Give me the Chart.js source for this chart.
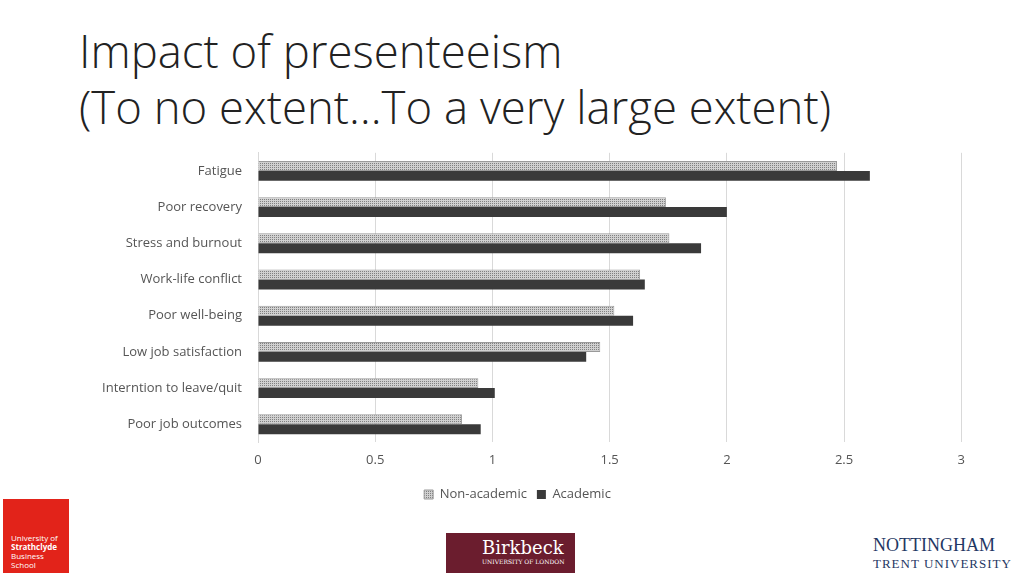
<!DOCTYPE html>
<html lang="en">
<head>
<meta charset="UTF-8">
<title>Impact of presenteeism</title>
<script src="https://cdn.jsdelivr.net/npm/chart.js"></script>
<style>
  body { margin: 0; width: 1024px; height: 576px; background: #fff; position: relative; overflow: hidden; font-family: "Open Sans", sans-serif; }
  h1 { position: absolute; left: 79px; top: 22px; margin: 0; font-weight: 300; font-size: 45.5px; line-height: 56px; color: #222; }
  .chart { position: absolute; left: 60px; top: 137px; width: 915px; height: 374px; }
  .strath { position: absolute; left: 3px; top: 499px; width: 66px; height: 74px; background: #e2231a; color: #fff; font-size: 8px; line-height: 9px; padding: 34px 0 0 8px; box-sizing: border-box; }
  .bbk { position: absolute; left: 446px; top: 533px; width: 129px; height: 40px; background: #6b1d2e; color: #fff; font-family: "DejaVu Serif", serif; font-size: 18px; padding: 4px 0 0 36px; box-sizing: border-box; white-space: nowrap; }
  .bbk small { display: block; font-size: 6px; margin-top: 0; }
  .ntu { position: absolute; left: 873px; top: 537px; color: #1f3864; font-family: "Liberation Serif", serif; font-size: 18px; line-height: 17px; }
  .ntu small { font-size: 13px; letter-spacing: 1px; }
</style>
</head>
<body>
<h1>Impact of presenteeism<br>(To no extent…To a very large extent)</h1>
<div class="chart"><canvas id="c"></canvas></div>
<div class="strath">University of<br><b>Strathclyde</b><br>Business School</div>
<div class="bbk">Birkbeck<small>UNIVERSITY OF LONDON</small></div>
<div class="ntu">NOTTINGHAM<br><small>TRENT UNIVERSITY</small></div>
<script>
const categories = ['Fatigue', 'Poor recovery', 'Stress and burnout', 'Work-life conflict', 'Poor well-being', 'Low job satisfaction', 'Interntion to leave/quit', 'Poor job outcomes'];
const nonAcademic = [2.47, 1.74, 1.755, 1.63, 1.52, 1.46, 0.94, 0.87];
const academic = [2.61, 2.00, 1.89, 1.65, 1.60, 1.40, 1.01, 0.95];

function makePattern() {
  const p = document.createElement('canvas');
  p.width = 4; p.height = 4;
  const g = p.getContext('2d');
  g.fillStyle = '#d0d0d0'; g.fillRect(0, 0, 4, 4);
  g.fillStyle = '#808080';
  g.fillRect(0, 0, 1, 1); g.fillRect(2, 2, 1, 1); g.fillRect(2, 0, 1, 1); g.fillRect(0, 2, 1, 1);
  return g.createPattern(p, 'repeat');
}
const pat = makePattern();
Chart.defaults.font.family = '"Open Sans", sans-serif';

new Chart(document.getElementById('c'), {
  type: 'bar',
  data: {
    labels: categories,
    datasets: [
      { label: 'Non-academic', data: nonAcademic, backgroundColor: pat, borderColor: '#9a9a9a', borderWidth: 1 },
      { label: 'Academic', data: academic, backgroundColor: '#3a3a3a' }
    ]
  },
  options: {
    indexAxis: 'y',
    responsive: true,
    maintainAspectRatio: false,
    animation: false,
    datasets: { bar: { categoryPercentage: 0.55, barPercentage: 1 } },
    scales: {
      x: { min: 0, max: 3, ticks: { stepSize: 0.5, color: '#555', font: { size: 13 }, padding: 10, callback: v => String(v) }, grid: { color: '#d9d9d9', drawTicks: false }, border: { display: false } },
      y: { afterFit: s => { s.width = 198; }, ticks: { color: '#555', font: { size: 13 }, padding: 8 }, grid: { display: false }, border: { color: '#d9d9d9' } }
    },
    plugins: {
      legend: { position: 'bottom', labels: { boxWidth: 9, boxHeight: 9, color: '#555', font: { size: 13 }, padding: 10 } },
      tooltip: { enabled: false }
    }
  }
});
</script>
</body>
</html>
